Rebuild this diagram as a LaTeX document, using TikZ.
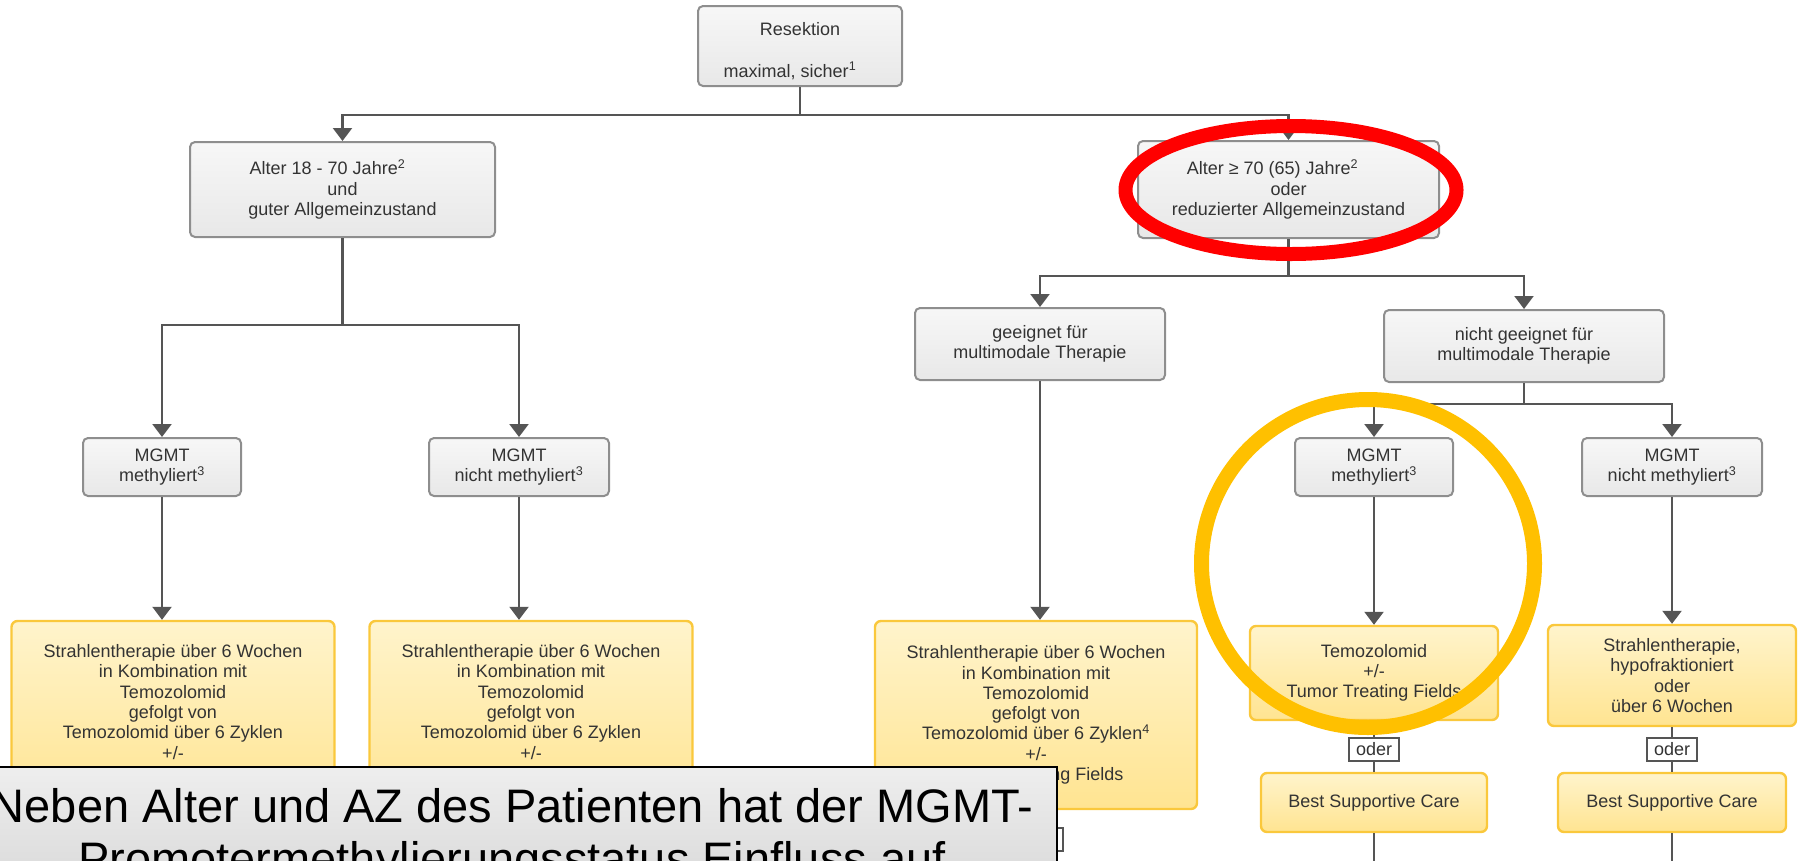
\documentclass[tikz,border=0pt]{standalone}
\usepackage{fontspec}
\setmainfont{Liberation Sans}
\usetikzlibrary{arrows.meta}
\definecolor{ln}{HTML}{555555}
\definecolor{txt}{HTML}{333333}
\definecolor{gborder}{HTML}{8E8E8E}
\definecolor{gtop}{HTML}{F7F7F7}
\definecolor{gbot}{HTML}{E8E8E8}
\definecolor{yborder}{HTML}{FAC83C}
\definecolor{ytop}{HTML}{FFF4CC}
\definecolor{ybot}{HTML}{FFE491}
\definecolor{ringc}{HTML}{FFC000}
\definecolor{captop}{HTML}{EEEEEE}
\definecolor{capbot}{HTML}{D6D6D6}
\begin{document}
\begin{tikzpicture}[x=1pt,y=-1pt,
  gbox/.style={draw=gborder, line width=2pt, rounded corners=5pt, top color=gtop, bottom color=gbot,
    align=center, text=txt, font=\fontsize{18}{20.3}\selectfont, inner sep=0pt},
  ybox/.style={draw=yborder, line width=2.4pt, rounded corners=6pt, top color=ytop, bottom color=ybot,
    align=center, text=txt, font=\fontsize{18}{20.3}\selectfont, inner sep=0pt},
  conn/.style={draw=ln, line width=2.2pt},
  arr/.style={conn, -{Triangle[width=19pt,length=13pt]}},
  oderbox/.style={draw=ln, line width=2pt, fill=white, text=txt, font=\fontsize{18}{20.3}\selectfont,
    minimum width=50pt, minimum height=23pt, inner sep=0pt},
  capbox/.style={draw=black, line width=1.8pt, top color=captop, bottom color=capbot, inner sep=0pt},
  captxt/.style={text=black, font=\fontsize{47}{53}\selectfont, inner sep=0pt},
]
\useasboundingbox (0,0) rectangle (1801,860);
\clip (0,0) rectangle (1801,860);

% gray decision boxes
\node[gbox, minimum width=204pt, minimum height=80pt] (res) at (800,46)
  {\rule{0pt}{23pt}Resektion\\[21pt]maximal, sicher\textsuperscript{1}\hbox to 20pt{}};
\node[gbox, minimum width=305pt, minimum height=95pt] (a18) at (342.5,189.5)
  {Alter 18 - 70 Jahre\textsuperscript{2}\hbox to 30pt{}\\und\\guter Allgemeinzustand};
\node[gbox, minimum width=301pt, minimum height=97pt] (a70) at (1288.5,189.5)
  {Alter ≥ 70 (65) Jahre\textsuperscript{2}\hbox to 32pt{}\\oder\\reduzierter Allgemeinzustand};
\node[gbox, minimum width=250pt, minimum height=72pt] (gee) at (1040,344)
  {geeignet für\\multimodale Therapie};
\node[gbox, minimum width=280pt, minimum height=72pt] (ngee) at (1524,346)
  {nicht geeignet für\\multimodale Therapie};
\node[gbox, minimum width=158pt, minimum height=58pt] (m1) at (162,467)
  {MGMT\\methyliert\textsuperscript{3}};
\node[gbox, minimum width=180pt, minimum height=58pt] (m2) at (519,467)
  {MGMT\\nicht methyliert\textsuperscript{3}};
\node[gbox, minimum width=158pt, minimum height=58pt] (m3) at (1374,467)
  {MGMT\\methyliert\textsuperscript{3}};
\node[gbox, minimum width=180pt, minimum height=58pt] (m4) at (1672,467)
  {MGMT\\nicht methyliert\textsuperscript{3}};

% yellow therapy boxes
\node[ybox, minimum width=323pt, minimum height=188pt] (y1) at (173,715)
  {Strahlentherapie über 6 Wochen\\in Kombination mit\\Temozolomid\\gefolgt von\\Temozolomid über 6 Zyklen\\+/-\\\strut};
\node[ybox, minimum width=323pt, minimum height=188pt] (y2) at (531,715)
  {Strahlentherapie über 6 Wochen\\in Kombination mit\\Temozolomid\\gefolgt von\\Temozolomid über 6 Zyklen\\+/-\\\strut};
\node[ybox, minimum width=322pt, minimum height=188pt] (y3) at (1036,715)
  {Strahlentherapie über 6 Wochen\\in Kombination mit\\Temozolomid\\gefolgt von\\Temozolomid über 6 Zyklen\textsuperscript{4}\\+/-\\Tumor Treating Fields};
\node[ybox, minimum width=248pt, minimum height=94pt] (y4) at (1374,673)
  {Temozolomid\\+/-\\Tumor Treating Fields};
\node[ybox, minimum width=248pt, minimum height=101pt] (y5) at (1672,675.5)
  {Strahlentherapie,\\hypofraktioniert\\oder\\über 6 Wochen};
\node[ybox, minimum width=226pt, minimum height=59pt] (b4) at (1374,802.5) {Best Supportive Care};
\node[ybox, minimum width=228pt, minimum height=59pt] (b5) at (1672,802.5) {Best Supportive Care};

% connectors
\coordinate (j0) at (800,115);
\coordinate (j1) at (342.5,325);
\coordinate (j2) at (1288.5,276);
\coordinate (j3) at (1524,404);
\coordinate (e3) at (1038,870);
\coordinate (e4) at (1374,870);
\coordinate (e5) at (1672,870);

\draw[conn] (res.south) -- (j0);
\draw[arr] (j0) -| (a18.north);
\draw[arr] (j0) -| (a70.north);
\draw[conn] (a18.south) -- (j1);
\draw[arr] (j1) -| (m1.north);
\draw[arr] (j1) -| (m2.north);
\draw[conn] (a70.south) -- (j2);
\draw[arr] (j2) -| (gee.north);
\draw[arr] (j2) -| (ngee.north);
\draw[conn] (ngee.south) -- (j3);
\draw[arr] (j3) -| (m3.north);
\draw[arr] (j3) -| (m4.north);
\draw[arr] (gee.south) -- (gee.south |- y3.north);
\draw[arr] (m1.south) -- (m1.south |- y1.north);
\draw[arr] (m2.south) -- (m2.south |- y2.north);
\draw[arr] (m3.south) -- (m3.south |- y4.north);
\draw[arr] (m4.south) -- (m4.south |- y5.north);

% "oder" links
\node[oderbox] (o3) at (1038,839.5) {oder};
\node[oderbox] (o4) at (1374,749.5) {oder};
\node[oderbox] (o5) at (1672,749.5) {oder};
\draw[conn] (y3.south -| o3.north) -- (o3.north);
\draw[conn] (o3.south) -- (e3);
\draw[conn] (y4.south) -- (o4.north);
\draw[conn] (o4.south) -- (b4.north);
\draw[conn] (b4.south) -- (e4);
\draw[conn] (y5.south) -- (o5.north);
\draw[conn] (o5.south) -- (b5.north);
\draw[conn] (b5.south) -- (e5);

% highlight marks
\draw[red, line width=14pt] (1291,190) ellipse [x radius=165.5pt, y radius=64pt];
\draw[ringc, line width=15pt] (1368,563.5) ellipse [x radius=166.5pt, y radius=164pt];

% caption overlay
\node[capbox, minimum width=1090pt, minimum height=140pt] (cap) at (512,837) {};
\node[captxt, anchor=base] (capA) at (512,822) {Neben Alter und AZ des Patienten hat der MGMT-};
\node[captxt, anchor=base] (capB) at (512,875) {Promotermethylierungsstatus Einfluss auf};
\end{tikzpicture}
\end{document}
